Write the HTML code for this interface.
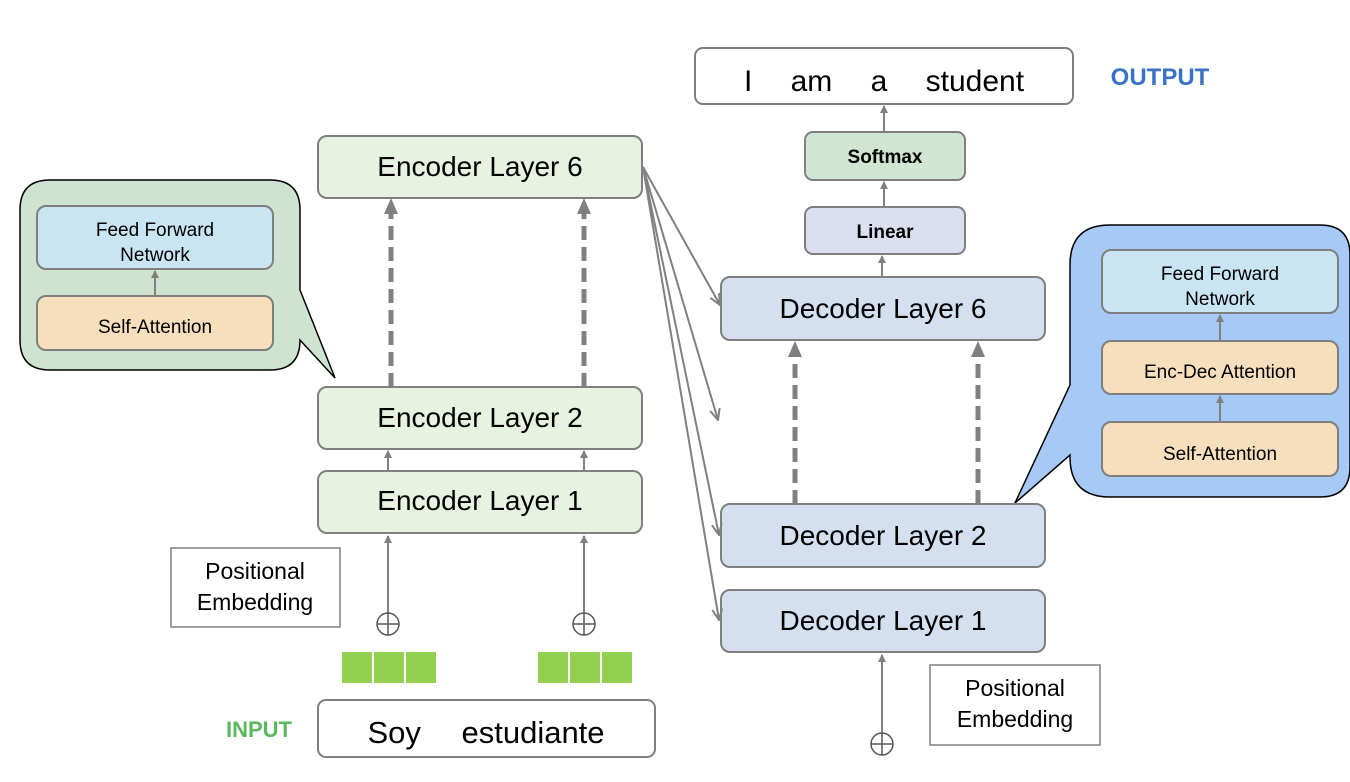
<!DOCTYPE html>
<html><head><meta charset="utf-8"><style>
html,body{margin:0;padding:0;background:#fff;}
svg{display:block;font-family:"Liberation Sans","DejaVu Sans",sans-serif;}
</style></head><body>
<svg width="1350" height="782" viewBox="0 0 1350 782" xmlns="http://www.w3.org/2000/svg">
<defs>
<marker id="ah" markerWidth="8" markerHeight="8" refX="7" refY="4" orient="auto" markerUnits="userSpaceOnUse"><path d="M0,0 L8,4 L0,8 z" fill="#808080"/></marker>
<marker id="ahl" markerWidth="12" markerHeight="12" refX="11" refY="6" orient="auto" markerUnits="userSpaceOnUse"><path d="M0,1 L11,6 L0,11" fill="none" stroke="#808080" stroke-width="2"/></marker>
</defs>

<path d="M50,180 H270 Q300,180 300,210 V290 L335,378 L300,340 Q300,370 270,370 H50 Q20,370 20,340 V210 Q20,180 50,180 Z" fill="#cfe4d0" stroke="#000" stroke-width="1.5"/>
<rect x="37" y="206" width="236" height="63" rx="9" fill="#c9e4f2" stroke="#7f7f7f" stroke-width="2"/>
<text x="155" y="236" font-size="19" text-anchor="middle">Feed Forward</text>
<text x="155" y="261" font-size="19" text-anchor="middle">Network</text>
<rect x="37" y="296" width="236" height="54" rx="9" fill="#f7dfbd" stroke="#7f7f7f" stroke-width="2"/>
<text x="155" y="333" font-size="19" text-anchor="middle">Self-Attention</text>
<line x1="155" y1="296" x2="155" y2="271" stroke="#808080" stroke-width="2" marker-end="url(#ah)"/>

<path d="M1110,225 H1320 Q1350,225 1350,255 V467 Q1350,497 1320,497 H1110 Q1070,497 1070,457 L1070,455 L1015,503 L1070,385 V265 Q1070,225 1110,225 Z" fill="#a6c9f6" stroke="#000" stroke-width="1.5"/>
<rect x="1102" y="250" width="236" height="63" rx="9" fill="#c9e4f2" stroke="#7f7f7f" stroke-width="2"/>
<text x="1220" y="280" font-size="19" text-anchor="middle">Feed Forward</text>
<text x="1220" y="305" font-size="19" text-anchor="middle">Network</text>
<rect x="1102" y="341" width="236" height="53" rx="9" fill="#f7dfbd" stroke="#7f7f7f" stroke-width="2"/>
<text x="1220" y="378" font-size="19" text-anchor="middle">Enc-Dec Attention</text>
<rect x="1102" y="422" width="236" height="54" rx="9" fill="#f7dfbd" stroke="#7f7f7f" stroke-width="2"/>
<text x="1220" y="460" font-size="19" text-anchor="middle">Self-Attention</text>
<line x1="1220" y1="341" x2="1220" y2="315" stroke="#808080" stroke-width="2" marker-end="url(#ah)"/>
<line x1="1220" y1="422" x2="1220" y2="396" stroke="#808080" stroke-width="2" marker-end="url(#ah)"/>

<rect x="695" y="48" width="378" height="56" rx="8" fill="#fff" stroke="#7f7f7f" stroke-width="2"/>
<text x="884" y="91" font-size="30" text-anchor="middle" word-spacing="30">I am a student</text>
<text x="1160" y="85" font-size="24" font-weight="bold" fill="#3a72c4" text-anchor="middle">OUTPUT</text>
<rect x="805" y="132" width="160" height="48" rx="8" fill="#d0e5d2" stroke="#7f7f7f" stroke-width="2"/>
<text x="885" y="163" font-size="19" font-weight="bold" text-anchor="middle">Softmax</text>
<rect x="805" y="207" width="160" height="47" rx="8" fill="#dcdff0" stroke="#7f7f7f" stroke-width="2"/>
<text x="885" y="238" font-size="19" font-weight="bold" text-anchor="middle">Linear</text>
<line x1="884" y1="132" x2="884" y2="106" stroke="#808080" stroke-width="2" marker-end="url(#ah)"/>
<line x1="884" y1="207" x2="884" y2="182" stroke="#808080" stroke-width="2" marker-end="url(#ah)"/>
<line x1="882" y1="277" x2="882" y2="256" stroke="#808080" stroke-width="2" marker-end="url(#ah)"/>

<g fill="#e8f2e1" stroke="#7f7f7f" stroke-width="2">
<rect x="318" y="136" width="324" height="62" rx="9"/>
<rect x="318" y="387" width="324" height="62" rx="9"/>
<rect x="318" y="471" width="324" height="62" rx="9"/>
</g>
<g font-size="28" text-anchor="middle">
<text x="480" y="176">Encoder Layer 6</text>
<text x="480" y="427">Encoder Layer 2</text>
<text x="480" y="510">Encoder Layer 1</text>
</g>

<g fill="#d4e0f0" stroke="#7f7f7f" stroke-width="2">
<rect x="721" y="277" width="324" height="63" rx="9"/>
<rect x="721" y="504" width="324" height="63" rx="9"/>
<rect x="721" y="590" width="324" height="62" rx="9"/>
</g>
<g font-size="28" text-anchor="middle">
<text x="883" y="318">Decoder Layer 6</text>
<text x="883" y="545">Decoder Layer 2</text>
<text x="883" y="630">Decoder Layer 1</text>
</g>

<g stroke="#808080" stroke-width="5" stroke-dasharray="14,7" fill="none">
<line x1="391" y1="387" x2="391" y2="212"/>
<line x1="584" y1="387" x2="584" y2="212"/>
<line x1="795" y1="504" x2="795" y2="355"/>
<line x1="978" y1="504" x2="978" y2="355"/>
</g>
<g fill="#808080">
<path d="M384,214 L391,198 L398,214 Z"/>
<path d="M577,214 L584,198 L591,214 Z"/>
<path d="M788,357 L795,341 L802,357 Z"/>
<path d="M971,357 L978,341 L985,357 Z"/>
</g>

<line x1="388" y1="471" x2="388" y2="451" stroke="#808080" stroke-width="2" marker-end="url(#ah)"/>
<line x1="584" y1="471" x2="584" y2="451" stroke="#808080" stroke-width="2" marker-end="url(#ah)"/>

<g stroke="#808080" stroke-width="2" fill="none" marker-end="url(#ahl)">
<line x1="643" y1="167" x2="720" y2="305"/>
<line x1="643" y1="167" x2="718" y2="420"/>
<line x1="643" y1="167" x2="719" y2="535"/>
<line x1="643" y1="167" x2="719" y2="620"/>
</g>

<g stroke="#808080" stroke-width="2" fill="none">
<line x1="388" y1="613" x2="388" y2="536" marker-end="url(#ah)"/>
<line x1="584" y1="613" x2="584" y2="536" marker-end="url(#ah)"/>
<line x1="882" y1="733" x2="882" y2="655" marker-end="url(#ah)"/>
</g>
<g stroke="#555" stroke-width="1.5" fill="none">
<circle cx="388" cy="624" r="11"/><line x1="377" y1="624" x2="399" y2="624"/><line x1="388" y1="613" x2="388" y2="635"/>
<circle cx="584" cy="624" r="11"/><line x1="573" y1="624" x2="595" y2="624"/><line x1="584" y1="613" x2="584" y2="635"/>
<circle cx="882" cy="744" r="11"/><line x1="871" y1="744" x2="893" y2="744"/><line x1="882" y1="733" x2="882" y2="755"/>
</g>
<g fill="#92d050" stroke="#fff" stroke-width="2">
<rect x="341" y="651" width="32" height="33"/><rect x="373" y="651" width="32" height="33"/><rect x="405" y="651" width="32" height="33"/>
<rect x="537" y="651" width="32" height="33"/><rect x="569" y="651" width="32" height="33"/><rect x="601" y="651" width="32" height="33"/>
</g>

<rect x="171" y="548" width="169" height="79" fill="#fff" stroke="#7f7f7f" stroke-width="1.5"/>
<text x="255" y="579" font-size="23" text-anchor="middle">Positional</text>
<text x="255" y="610" font-size="23" text-anchor="middle">Embedding</text>
<rect x="930" y="665" width="170" height="80" fill="#fff" stroke="#7f7f7f" stroke-width="1.5"/>
<text x="1015" y="696" font-size="23" text-anchor="middle">Positional</text>
<text x="1015" y="727" font-size="23" text-anchor="middle">Embedding</text>

<rect x="318" y="700" width="337" height="57" rx="8" fill="#fff" stroke="#7f7f7f" stroke-width="2"/>
<text x="486" y="743" font-size="31" text-anchor="middle" word-spacing="32">Soy estudiante</text>
<text x="259" y="737" font-size="22" font-weight="bold" fill="#5cb85c" text-anchor="middle">INPUT</text>
</svg>
</body></html>
